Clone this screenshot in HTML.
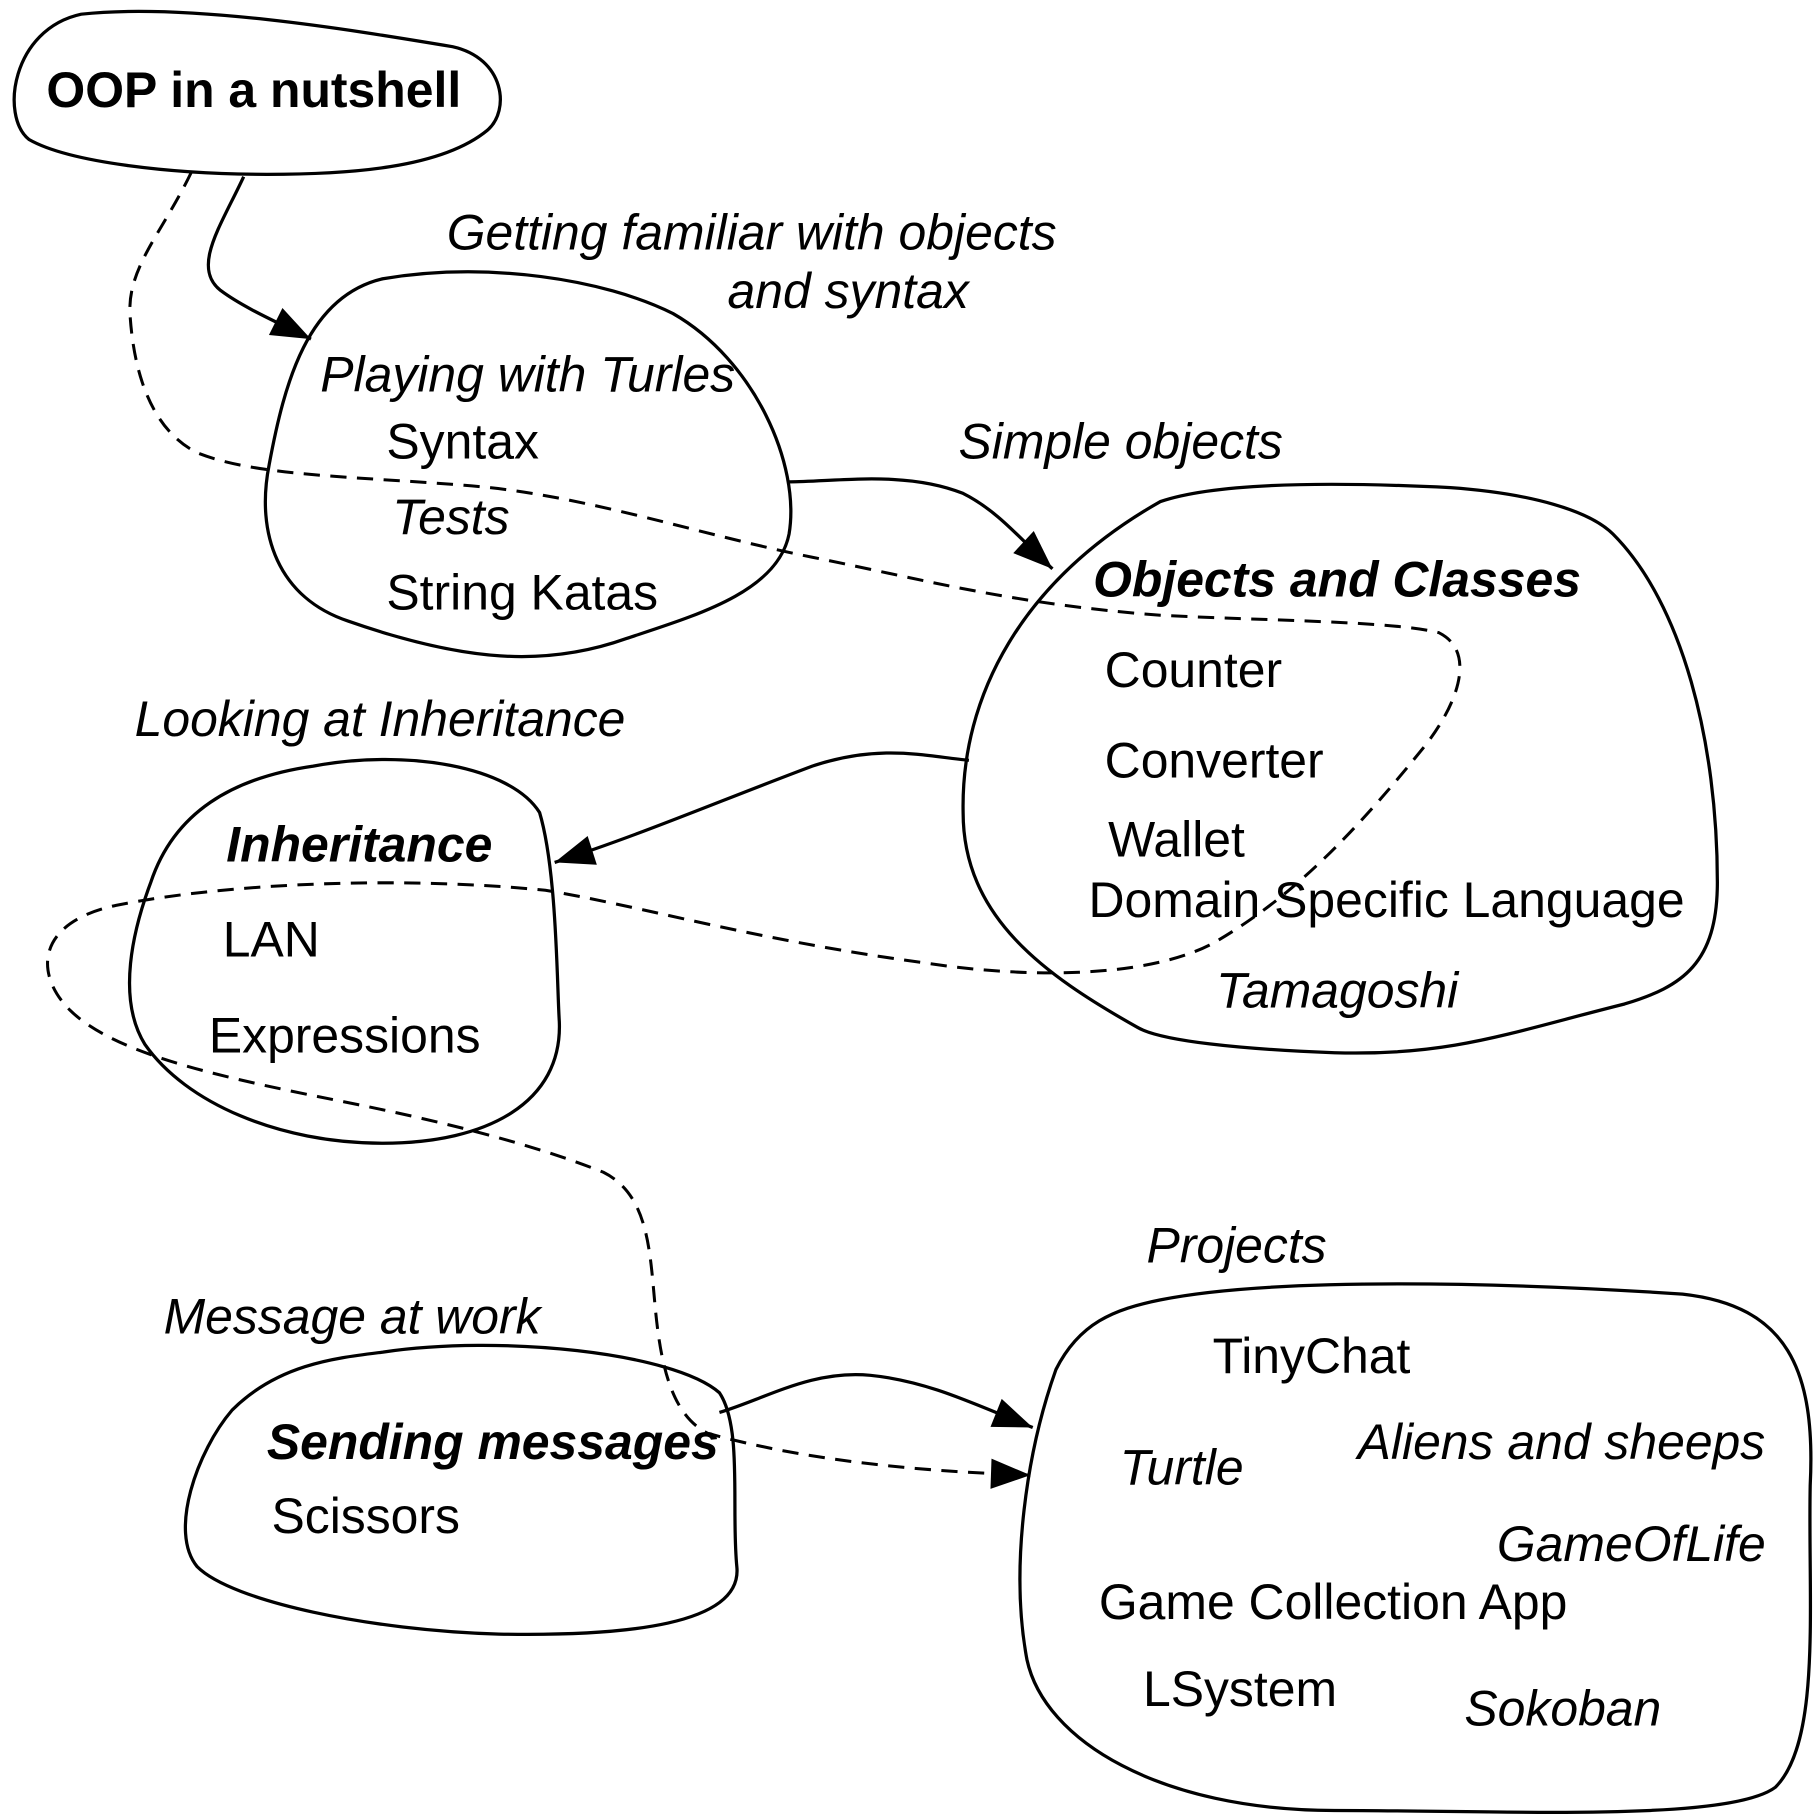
<!DOCTYPE html>
<html><head><meta charset="utf-8"><style>
html,body{margin:0;padding:0;background:#fff;}
svg{display:block;}
text{font-family:"Liberation Sans",Arial,sans-serif;font-size:43px;fill:#000;}
.i{font-style:italic;}
.b{font-weight:bold;}
.bi{font-weight:bold;font-style:italic;}
.blob{fill:none;stroke:#000;stroke-width:2.8;}
.edge{fill:none;stroke:#000;stroke-width:2.8;}
.dash{fill:none;stroke:#000;stroke-width:2.6;stroke-dasharray:14 9;}
</style></head><body>
<svg width="1816" height="1820" viewBox="0 0 1565 1568" xmlns="http://www.w3.org/2000/svg">
<defs>
<marker id="ah" viewBox="0 0 10 10" refX="9" refY="5" markerWidth="10" markerHeight="10" markerUnits="userSpaceOnUse" orient="auto" style="overflow:visible">
<path d="M-25,-8 L9,5 L-25,18 Z" fill="#000"/>
</marker>
</defs>

<path class="blob" d="M70,12 C160,2 300,25 390,40 C435,50 440,95 420,112 C380,145 300,150 230,150 C150,150 60,140 25,120 C0,100 10,25 70,12 Z"/>
<path class="blob" d="M330,240 C420,225 520,240 580,270 C650,310 690,400 680,460 C670,510 600,530 540,550 C470,575 400,570 300,535 C240,515 220,460 232,400 C245,330 265,255 330,240 Z"/>
<path class="blob" d="M1000,432 C1050,415 1150,415 1250,420 C1320,425 1370,440 1390,460 C1450,520 1480,640 1480,760 C1480,830 1450,850 1400,865 C1300,890 1250,910 1150,907 C1070,904 1000,897 980,885 C900,840 830,790 830,700 C828,600 880,500 1000,432 Z"/>
<path class="blob" d="M270,660 C350,645 440,660 465,700 C480,750 480,850 482,880 C485,950 420,985 330,985 C240,985 160,950 125,900 C100,860 115,800 130,760 C150,700 200,670 270,660 Z"/>
<path class="blob" d="M330,1165 C430,1150 580,1165 620,1200 C640,1230 630,1300 635,1350 C640,1400 540,1410 430,1408 C320,1405 200,1380 170,1350 C145,1320 170,1250 200,1215 C240,1175 290,1170 330,1165 Z"/>
<path class="blob" d="M1000,1120 C1100,1100 1300,1105 1450,1115 C1540,1125 1565,1180 1560,1280 C1558,1380 1570,1500 1530,1540 C1490,1570 1300,1560 1150,1560 C1000,1560 900,1500 885,1430 C870,1350 885,1250 910,1180 C930,1140 960,1128 1000,1120 Z"/>

<path class="edge" marker-end="url(#ah)" d="M210,152 C190,195 165,230 190,250 C210,265 240,278 268,292"/>
<path class="edge" marker-end="url(#ah)" d="M680,415 C720,415 780,405 830,425 C860,440 880,465 907,490"/>
<path class="edge" marker-end="url(#ah)" d="M835,655 C800,652 760,640 700,660 C620,690 550,720 478,743"/>
<path class="edge" marker-end="url(#ah)" d="M620,1217 C660,1205 700,1180 750,1185 C800,1190 840,1210 890,1230"/>
<path class="dash" marker-end="url(#ah)" d="M165,148 C140,200 110,230 112,270 C115,320 130,370 170,390 C220,410 300,410 400,418 C500,425 600,460 700,480 C800,500 870,520 1000,530 C1100,535 1200,535 1240,545 C1270,560 1260,600 1230,640 C1150,740 1100,780 1050,810 C1000,840 900,845 800,830 C650,810 550,780 470,767 C350,755 200,760 100,780 C30,795 30,840 60,870 C100,910 200,930 300,950 C400,970 470,990 520,1010 C560,1030 560,1080 565,1130 C570,1180 580,1220 610,1235 C700,1260 800,1268 888,1271"/>

<text class="b" x="40" y="92">OOP in a nutshell</text>
<text class="i" x="385" y="215">Getting familiar with objects</text>
<text class="i" x="627" y="265">and syntax</text>
<text class="i" x="276" y="337">Playing with Turles</text>
<text x="333" y="395">Syntax</text>
<text class="i" x="338" y="460">Tests</text>
<text x="333" y="525">String Katas</text>
<text class="i" x="826" y="395">Simple objects</text>
<text class="bi" x="942" y="514">Objects and Classes</text>
<text x="952" y="592">Counter</text>
<text x="952" y="670">Converter</text>
<text x="955" y="738">Wallet</text>
<text x="938" y="790">Domain Specific Language</text>
<text class="i" x="1048" y="868">Tamagoshi</text>
<text class="i" x="116" y="634">Looking at Inheritance</text>
<text class="bi" x="195" y="742">Inheritance</text>
<text x="192" y="824">LAN</text>
<text x="180" y="907">Expressions</text>
<text class="i" x="988" y="1088">Projects</text>
<text class="i" x="141" y="1149">Message at work</text>
<text class="bi" x="230" y="1257">Sending messages</text>
<text x="234" y="1321">Scissors</text>
<text x="1045" y="1183">TinyChat</text>
<text class="i" x="965" y="1279">Turtle</text>
<text class="i" x="1170" y="1257">Aliens and sheeps</text>
<text class="i" x="1290" y="1345">GameOfLife</text>
<text x="947" y="1395">Game Collection App</text>
<text x="985" y="1470">LSystem</text>
<text class="i" x="1262" y="1487">Sokoban</text>
</svg>
</body></html>
